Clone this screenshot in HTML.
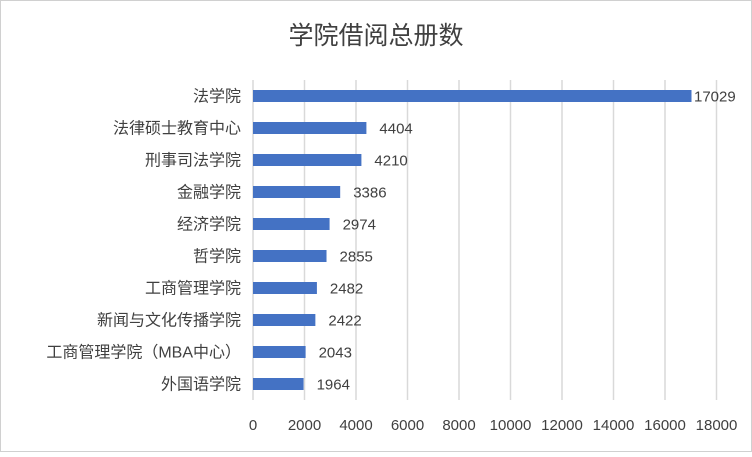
<!DOCTYPE html>
<html><head><meta charset="utf-8"><style>
body{margin:0;background:#fff}
svg text{font-family:"Liberation Sans","Noto Sans CJK SC",sans-serif;fill:#404040}
</style></head><body>
<svg width="752" height="452">
<rect x="0.5" y="0.5" width="751" height="451" fill="#fff" stroke="#d0d0d0"/>
<text x="376" y="44" text-anchor="middle" font-size="25">学院借阅总册数</text>
<g id="grid"></g><g id="bars"></g><g id="labels"></g>
</svg>
<script>
const categories=["法学院","法律硕士教育中心","刑事司法学院","金融学院","经济学院","哲学院","工商管理学院","新闻与文化传播学院","工商管理学院（MBA中心）","外国语学院"];
const values=[17029,4404,4210,3386,2974,2855,2482,2422,2043,1964];
const ticks=[0,2000,4000,6000,8000,10000,12000,14000,16000,18000];
const x0=253,x1=716.5,maxV=18000,yTop=80,yBottom=400,rowH=32;
const xs=v=>x0+(x1-x0)*v/maxV;
const ns="http://www.w3.org/2000/svg";
const gG=document.getElementById('grid'),gB=document.getElementById('bars'),gL=document.getElementById('labels');
function mk(tag,attrs,parent,txt){const e=document.createElementNS(ns,tag);for(const k in attrs)e.setAttribute(k,attrs[k]);if(txt!=null)e.textContent=txt;parent.appendChild(e);return e;}
ticks.forEach(t=>{
 const ln=mk('line',{x1:xs(t),x2:xs(t),y1:yTop,y2:yBottom,stroke:'#d9d9d9','stroke-width':1.5},gG);
 
 
 const tx=mk('text',{x:xs(t),y:430,'text-anchor':'middle','font-size':15},gL,t);
 
 
});
categories.forEach((c,i)=>{
 const cy=yTop+rowH*(i+0.5);
 const r=mk('rect',{x:xs(0),y:cy-6,width:xs(values[i])-xs(0),height:12,fill:'#4472c4'},gB);
 
 
 const cl=mk('text',{x:241,y:cy+5.5,'text-anchor':'end','font-size':16},gL,c);
 
 
 const vx=Math.min(xs(values[i])+13,694);
 const vl=mk('text',{x:vx,y:cy+5.5,'font-size':15},gL,values[i]);
 
 
});
</script>
</body></html>
